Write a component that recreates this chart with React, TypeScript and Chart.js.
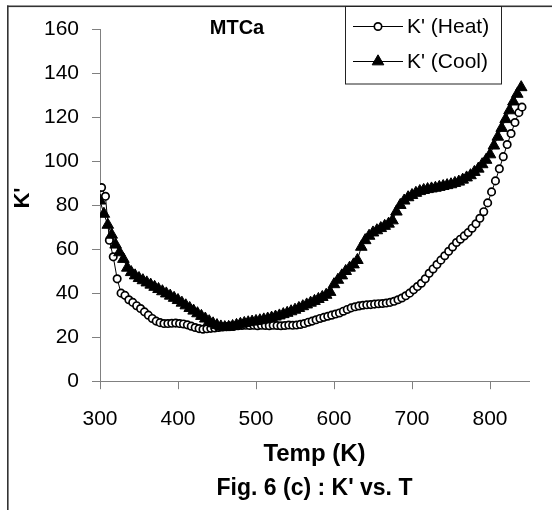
import { useEffect, useRef } from "react";
import { Chart, registerables } from "chart.js";
import { drawPoint } from "chart.js/helpers";

Chart.register(...registerables);

const FONT = "'Liberation Sans', Arial, Helvetica, sans-serif";

const chartTitle = "MTCa";
const xAxisTitle = "Temp (K)";
const yAxisTitle = "K'";
const caption = "Fig. 6 (c) : K' vs. T";
const seriesNames = ["K' (Heat)", "K' (Cool)"];

const xTickValues = [300, 400, 500, 600, 700, 800];
const yTickValues = [0, 20, 40, 60, 80, 100, 120, 140, 160];

const heatTemps = [
  302, 307, 312, 317, 322, 327, 332, 337, 342, 347,
  352, 357, 362, 367, 372, 377, 382, 387, 392, 397,
  402, 407, 412, 417, 422, 427, 432, 437, 442, 447,
  452, 457, 462, 467, 472, 477, 482, 487, 492, 497,
  502, 507, 512, 517, 522, 527, 532, 537, 542, 547,
  552, 557, 562, 567, 572, 577, 582, 587, 592, 597,
  602, 607, 612, 617, 622, 627, 632, 637, 642, 647,
  652, 657, 662, 667, 672, 677, 682, 687, 692, 697,
  702, 707, 712, 717, 722, 727, 732, 737, 742, 747,
  752, 757, 762, 767, 772, 777, 782, 787, 792, 797,
  802, 807, 812, 817, 822, 827, 832, 837, 841,
];
const heatK = [
  88, 84, 64, 56.5, 46.5, 40, 39, 37, 35.8, 34.3,
  33, 31.5, 30, 28.5, 27.3, 26.6, 26.2, 26.2, 26.3, 26.4,
  26.2, 26, 25.6, 25, 24.4, 23.9, 23.6, 23.8, 24, 24.2,
  24.4, 24.6, 24.8, 25, 25, 25.2, 25.3, 25.4, 25.3, 25.4,
  25.2, 25.4, 25.3, 25.2, 25.4, 25.3, 25.2, 25.3, 25.5, 25.4,
  25.5, 25.8, 26.2, 26.8, 27.3, 27.9, 28.5, 29, 29.5, 30,
  30.5, 31, 31.8, 32.6, 33.3, 33.8, 34.2, 34.5, 34.7, 34.8,
  35, 35.2, 35.3, 35.5, 35.8, 36.3, 37, 37.8, 38.8, 40,
  41.5, 43, 44.5, 46.5, 49, 51, 53, 55, 57, 59,
  61, 63, 64.5, 66, 67.5, 69.5, 71.5, 74, 77, 81,
  86, 91, 96.5, 102, 107.5, 112.5, 117.5, 122, 124.5,
];

const coolTemps = [
  300, 305, 310, 315, 320, 325, 330, 335, 340, 345,
  350, 355, 360, 365, 370, 375, 380, 385, 390, 395,
  400, 405, 410, 415, 420, 425, 430, 435, 440, 445,
  450, 455, 460, 465, 470, 475, 480, 485, 490, 495,
  500, 505, 510, 515, 520, 525, 530, 535, 540, 545,
  550, 555, 560, 565, 570, 575, 580, 585, 590, 595,
  600, 605, 610, 615, 620, 625, 630, 635, 640, 645,
  650, 655, 660, 665, 670, 675, 680, 685, 690, 695,
  700, 705, 710, 715, 720, 725, 730, 735, 740, 745,
  750, 755, 760, 765, 770, 775, 780, 785, 790, 795,
  800, 805, 810, 815, 820, 825, 830, 835, 840,
];
const coolK = [
  82, 76, 71, 66.5, 62, 58.5, 55.5, 51.5, 49.5, 48,
  46.8, 45.8, 44.8, 43.8, 42.8, 41.8, 40.8, 39.8, 38.8, 37.8,
  36.8, 35.6, 34.4, 33.2, 32, 30.8, 29.6, 28.4, 27.2, 26.2,
  25.4, 24.8, 24.5, 24.6, 25, 25.5, 26, 26.4, 26.7, 27,
  27.3, 27.6, 28, 28.4, 28.8, 29.3, 29.8, 30.4, 31, 31.7,
  32.4, 33.2, 34, 34.8, 35.6, 36.4, 37.3, 38.2, 39.2, 40.5,
  44, 46, 48, 50, 51.5, 53, 55, 61, 64, 66,
  67.5, 68.5, 69.5, 70.5, 71.5, 73, 77, 80, 82, 83.5,
  84.5, 85.5, 86.3, 86.8, 87.2, 87.5, 87.8, 88.2, 88.6, 89,
  89.4, 90, 90.6, 91.5, 92.5, 93.5, 95, 96.5, 98.5, 100.5,
  103, 107, 111, 115, 119, 123, 127, 130.5, 133.5,
];

const heatStyle = { pointStyle: "circle", radius: 3.7, borderWidth: 1.7, fill: "#ffffff" };
const coolStyle = { pointStyle: "triangle", radius: 6.7, borderWidth: 1, fill: "#000000" };

const decorPlugin = {
  id: "decor",
  afterDraw(chart: any) {
    const ctx = chart.ctx as CanvasRenderingContext2D;
    const area = chart.chartArea;
    ctx.save();
    // outer frame (top and left)
    ctx.fillStyle = "#333333";
    ctx.fillRect(7, 5.5, chart.width - 7, 1.6);
    ctx.fillRect(7, 5.5, 1.6, chart.height - 5.5);

    // y axis title
    ctx.save();
    ctx.translate(23, 198);
    ctx.rotate(-Math.PI / 2);
    ctx.fillStyle = "#000";
    ctx.font = `bold 22px ${FONT}`;
    ctx.textAlign = "center";
    ctx.textBaseline = "middle";
    ctx.fillText(yAxisTitle, 0, 0);
    ctx.restore();

    // in-plot title
    ctx.fillStyle = "#000";
    ctx.font = `bold 20px ${FONT}`;
    ctx.textAlign = "center";
    ctx.textBaseline = "middle";
    ctx.fillText(chartTitle, area.left + 137, area.top - 1);

    // legend box
    const bx = 345.5, by = 6.5, bw = 156, bh = 77.5;
    ctx.fillStyle = "#ffffff";
    ctx.fillRect(bx, by, bw, bh);
    ctx.strokeStyle = "#222";
    ctx.lineWidth = 1;
    ctx.strokeRect(bx, by, bw, bh);
    const rows = [26, 61];
    const styles = [heatStyle, coolStyle];
    seriesNames.forEach((name, i) => {
      const y = rows[i];
      ctx.strokeStyle = "#000";
      ctx.lineWidth = 1;
      ctx.beginPath();
      ctx.moveTo(353, y + 0.5);
      ctx.lineTo(403, y + 0.5);
      ctx.stroke();
      const st = styles[i];
      ctx.fillStyle = st.fill;
      ctx.strokeStyle = "#000";
      ctx.lineWidth = st.borderWidth;
      drawPoint(ctx, { pointStyle: st.pointStyle as any, radius: st.radius, rotation: 0, borderWidth: st.borderWidth }, 378, y + 0.5);
      ctx.fillStyle = "#000";
      ctx.font = `21px ${FONT}`;
      ctx.textAlign = "left";
      ctx.textBaseline = "middle";
      ctx.fillText(name, 407, y + 1);
    });
    ctx.restore();
  },
};

export default function App() {
  const canvasRef = useRef<HTMLCanvasElement | null>(null);

  useEffect(() => {
    document.body.style.margin = "0";
    const canvas = canvasRef.current;
    if (!canvas) return;
    const heatData = heatTemps.map((t, i) => ({ x: t, y: heatK[i] }));
    const coolData = coolTemps.map((t, i) => ({ x: t, y: coolK[i] }));

    const chart = new Chart(canvas, {
      type: "line",
      data: {
        datasets: [
          {
            label: seriesNames[0],
            data: heatData,
            order: 1,
            borderColor: "#000",
            borderWidth: 1,
            pointStyle: "circle",
            pointRadius: heatStyle.radius,
            pointBorderWidth: heatStyle.borderWidth,
            pointBackgroundColor: heatStyle.fill,
            pointBorderColor: "#000",
            tension: 0,
            fill: false,
          },
          {
            label: seriesNames[1],
            data: coolData,
            order: 0,
            borderColor: "#000",
            borderWidth: 1,
            pointStyle: "triangle",
            pointRadius: coolStyle.radius,
            pointBorderWidth: coolStyle.borderWidth,
            pointBackgroundColor: coolStyle.fill,
            pointBorderColor: "#000",
            tension: 0,
            fill: false,
          },
        ],
      },
      options: {
        responsive: false,
        animation: false,
        layout: { padding: { top: 29, right: 23, bottom: 7.6, left: 0 } },
        plugins: {
          legend: { display: false },
          tooltip: { enabled: false },
          title: {
            display: true,
            text: caption,
            position: "bottom",
            fullSize: false,
            color: "#000",
            font: { family: FONT, size: 23, weight: "bold" },
            padding: { top: 0, bottom: 0 },
          },
        },
        scales: {
          x: {
            type: "linear",
            min: 300,
            max: 850,
            afterBuildTicks: (scale: any) => {
              scale.ticks = xTickValues.map((v) => ({ value: v }));
            },
            afterFit: (scale: any) => {
              scale.height = 93.6;
            },
            grid: { drawOnChartArea: false, drawTicks: true, tickLength: 8, color: "#808080", lineWidth: 1 },
            border: { display: true, color: "#808080", width: 1 },
            ticks: { color: "#000", padding: 17, font: { family: FONT, size: 21 }, maxRotation: 0, autoSkip: false },
            title: {
              display: true,
              text: xAxisTitle,
              color: "#000",
              font: { family: FONT, size: 24, weight: "bold" },
              padding: { top: 0, bottom: 6 },
            },
          },
          y: {
            type: "linear",
            min: 0,
            max: 160,
            afterBuildTicks: (scale: any) => {
              scale.ticks = yTickValues.map((v) => ({ value: v }));
            },
            afterFit: (scale: any) => {
              scale.width = 100;
            },
            grid: { drawOnChartArea: false, drawTicks: true, tickLength: 8, color: "#808080", lineWidth: 1 },
            border: { display: true, color: "#808080", width: 1 },
            ticks: { color: "#000", padding: 13, font: { family: FONT, size: 21 }, autoSkip: false },
            title: { display: false, text: yAxisTitle },
          },
        },
      },
      plugins: [decorPlugin],
    });

    return () => chart.destroy();
  }, []);

  return <canvas ref={canvasRef} width={552} height={510} style={{ display: "block" }} />;
}
